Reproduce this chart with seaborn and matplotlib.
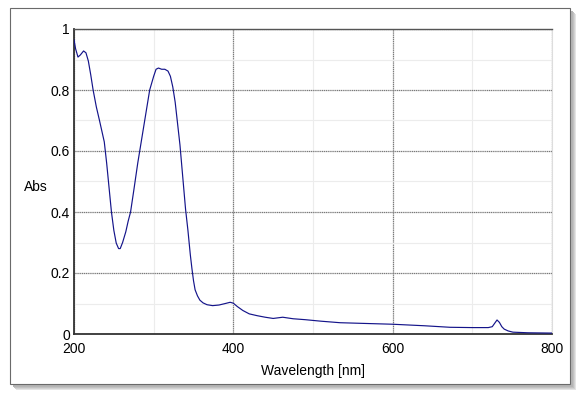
import numpy as np
import pandas as pd
import matplotlib
matplotlib.use("Agg")
import matplotlib.pyplot as plt
from matplotlib.patches import Rectangle
from matplotlib.ticker import MultipleLocator
import seaborn as sns

# --- Spectrum ---
wavelength = [200, 202, 205, 208, 212, 215, 218, 221, 224, 228, 232, 235, 238, 241,
              244, 247, 250, 253, 256, 258, 261, 265, 268, 271, 275, 280, 285, 290,
              295, 300, 303, 306, 310, 314, 318, 321, 324, 327, 330, 333, 337, 340,
              343, 346, 348, 350, 352, 355, 358, 362, 367, 374, 382, 390, 396, 400,
              405, 412, 420, 430, 440, 450, 462, 475, 490, 510, 534, 560, 600, 640,
              672, 700, 720, 725, 728, 731, 734, 737, 740, 745, 751, 770, 800]
absorbance = [0.965, 0.935, 0.908, 0.915, 0.928, 0.922, 0.895, 0.850, 0.800, 0.745,
              0.700, 0.665, 0.630, 0.560, 0.480, 0.400, 0.340, 0.298, 0.280, 0.280,
              0.300, 0.335, 0.370, 0.400, 0.470, 0.560, 0.640, 0.720, 0.800, 0.845,
              0.868, 0.872, 0.868, 0.868, 0.862, 0.845, 0.810, 0.760, 0.690, 0.620,
              0.500, 0.410, 0.340, 0.260, 0.215, 0.175, 0.145, 0.125, 0.111, 0.102,
              0.096, 0.093, 0.095, 0.100, 0.104, 0.101, 0.090, 0.077, 0.066, 0.060,
              0.055, 0.051, 0.055, 0.050, 0.047, 0.042, 0.037, 0.035, 0.032, 0.027,
              0.022, 0.021, 0.021, 0.024, 0.035, 0.046, 0.038, 0.024, 0.016, 0.010,
              0.006, 0.004, 0.003]

x_ticks = [200, 400, 600, 800]
x_tick_labels = ["200", "400", "600", "800"]
y_ticks = [0, 0.2, 0.4, 0.6, 0.8, 1.0]
y_tick_labels = ["0", "0.2", "0.4", "0.6", "0.8", "1"]

df = pd.DataFrame({"wavelength": wavelength, "abs": absorbance})

sns.set_style("white")
plt.rcParams["font.family"] = ["Liberation Sans", "DejaVu Sans"]
plt.rcParams["text.color"] = "black"
plt.rcParams["xtick.labelcolor"] = "black"
plt.rcParams["ytick.labelcolor"] = "black"

fig = plt.figure(figsize=(5.88, 3.99), dpi=100)

# --- Outer panel with soft drop shadow (behind the axes) ---
W, H = 588, 399
for off, col in [(6, "#e4e4e4"), (5, "#d2d2d2"), (4, "#c2c2c2"), (3, "#b5b5b5")]:
    fig.patches.append(Rectangle(((10 + off) / W, 1 - (384 + off) / H), 560 / W, 376 / H,
                                 transform=fig.transFigure, facecolor=col,
                                 edgecolor="none", zorder=-3))
fig.patches.append(Rectangle((10 / W, 1 - 384 / H), 560 / W, 376 / H,
                             transform=fig.transFigure, facecolor="white",
                             edgecolor="#6a6a6a", linewidth=0.8, zorder=-2))

ax = fig.add_axes([74 / W, 1 - 334 / H, 478 / W, 305 / H])
ax.set_facecolor("white")

sns.lineplot(data=df, x="wavelength", y="abs", ax=ax, color="#14148a",
             linewidth=0.85, zorder=3)

ax.set_xlim(200, 800)
ax.set_ylim(0, 1)

ax.set_xticks(x_ticks)
ax.set_xticklabels(x_tick_labels, fontsize=10)
ax.set_yticks(y_ticks)
ax.set_yticklabels(y_tick_labels, fontsize=10)
ax.xaxis.set_minor_locator(MultipleLocator(100))
ax.yaxis.set_minor_locator(MultipleLocator(0.1))

# grid: dark majors, faint minors
ax.grid(which="major", color="#7a7a7a", linewidth=0.9, linestyle=(0, (1, 0.5)))
ax.grid(which="minor", color="#ececec", linewidth=0.8)
ax.set_axisbelow(True)

ax.tick_params(axis="y", which="major", direction="in", length=11.5, width=1.2,
               color="#222222", pad=3)
ax.tick_params(axis="y", which="minor", direction="in", length=6.5, width=1.0,
               color="#444444")
ax.tick_params(axis="x", which="major", direction="in", length=9, width=1.5,
               color="#aaaaaa", pad=6)
ax.tick_params(axis="x", which="minor", direction="in", length=7, width=1.2,
               color="#222222")

for side in ["left", "bottom"]:
    ax.spines[side].set_color("#333333")
    ax.spines[side].set_linewidth(1.3)
ax.spines["top"].set_color("#555555")
ax.spines["top"].set_linewidth(1.0)
ax.spines["right"].set_color("#dddddd")
ax.spines["right"].set_linewidth(0.8)

ax.set_xlabel("Wavelength [nm]", fontsize=10, color="black")
ax.set_ylabel("")
ax.xaxis.set_label_coords(0.5, -0.1)
fig.text(24 / W, 1 - 187 / H, "Abs", fontsize=10, ha="left", va="center")

fig.savefig("out.png", dpi=100)
